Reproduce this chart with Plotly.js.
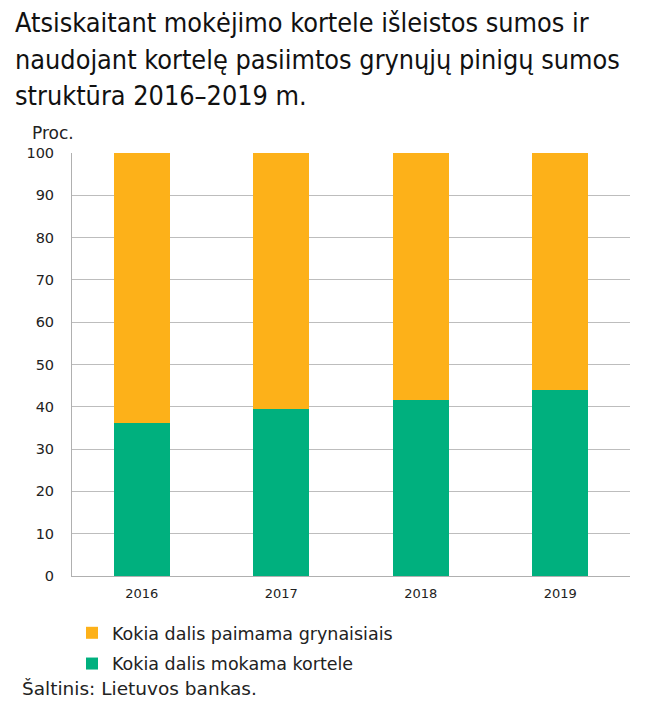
<!DOCTYPE html>
<html>
<head>
<meta charset="utf-8">
<script src="https://cdn.plot.ly/plotly-3.0.1.min.js"></script>
<style>
  html, body { margin: 0; padding: 0; background: #fff; }
  #chart { width: 670px; height: 713px; }
</style>
</head>
<body>
<div id="chart"></div>
<script>
const years = ["2016", "2017", "2018", "2019"];
const cardShare = [36.2, 39.5, 41.6, 44.0];
const cashShare = [63.8, 60.5, 58.4, 56.0];
const seriesNames = ["Kokia dalis mokama kortele", "Kokia dalis paimama grynaisiais"];
const yTicks = [0, 10, 20, 30, 40, 50, 60, 70, 80, 90, 100];

const titleLines = [
    "Atsiskaitant mokėjimo kortele išleistos sumos ir",
    "naudojant kortelę pasiimtos grynųjų pinigų sumos",
    "struktūra 2016–2019 m."
];

const green = "#00B07E";
const orange = "#FDB119";
const font = "DejaVu Sans, Verdana, sans-serif";

const traces = [
    {
        x: years,
        y: cardShare,
        name: seriesNames[0],
        type: "bar",
        marker: {color: green},
        width: 0.4,
        legendgroup: "a",
        legendrank: 2,
        hoverinfo: "y"
    },
    {
        x: years,
        y: cashShare,
        name: seriesNames[1],
        type: "bar",
        marker: {color: orange},
        width: 0.4,
        legendgroup: "b",
        legendrank: 1,
        hoverinfo: "y"
    }
];

const titleY = [1.308, 1.222, 1.135];
const annotations = titleLines.map((t, i) => ({
    text: t,
    xref: "paper", yref: "paper",
    x: -0.106, y: titleY[i],
    xanchor: "left", yanchor: "middle",
    showarrow: false,
    font: {family: "DejaVu Sans Condensed, " + font, size: 26.8, color: "#111"}
}));

annotations.push({
    text: "Proc.",
    xref: "paper", yref: "paper",
    x: -0.075, y: 1.047,
    xanchor: "left", yanchor: "middle",
    showarrow: false,
    font: {family: font, size: 17, color: "#222"}
});

annotations.push({
    text: "Šaltinis: Lietuvos bankas.",
    xref: "paper", yref: "paper",
    x: -0.093, y: -0.265,
    xanchor: "left", yanchor: "middle",
    showarrow: false,
    font: {family: font, size: 18.5, color: "#222"}
});

const layout = {
    width: 670,
    height: 713,
    margin: {t: 153, r: 40, b: 137, l: 72},
    paper_bgcolor: "#fff",
    plot_bgcolor: "#fff",
    barmode: "stack",
    showlegend: true,
    font: {family: font, color: "#222"},
    xaxis: {
        type: "category",
        showgrid: false,
        showline: true,
        linecolor: "#b0b0b0",
        linewidth: 1,
        ticks: "outside",
        ticklen: 5,
        tickcolor: "rgba(0,0,0,0)",
        tickfont: {family: font, size: 13, color: "#222"}
    },
    yaxis: {
        range: [0, 100],
        tickvals: yTicks,
        showgrid: true,
        gridcolor: "#bdbdbd",
        gridwidth: 1,
        showline: true,
        linecolor: "#b0b0b0",
        zeroline: false,
        ticks: "outside",
        ticklen: 14,
        tickcolor: "rgba(0,0,0,0)",
        tickfont: {family: font, size: 14.5, color: "#222"},
        fixedrange: true
    },
    legend: {
        x: 0.0, y: -0.092,
        xanchor: "left", yanchor: "top",
        traceorder: "grouped",
        tracegroupgap: 5,
        font: {family: font, size: 17.5, color: "#222"},
        bgcolor: "rgba(0,0,0,0)"
    },
    annotations: annotations
};

Plotly.newPlot("chart", traces, layout, {displayModeBar: false, staticPlot: true});
</script>
</body>
</html>
